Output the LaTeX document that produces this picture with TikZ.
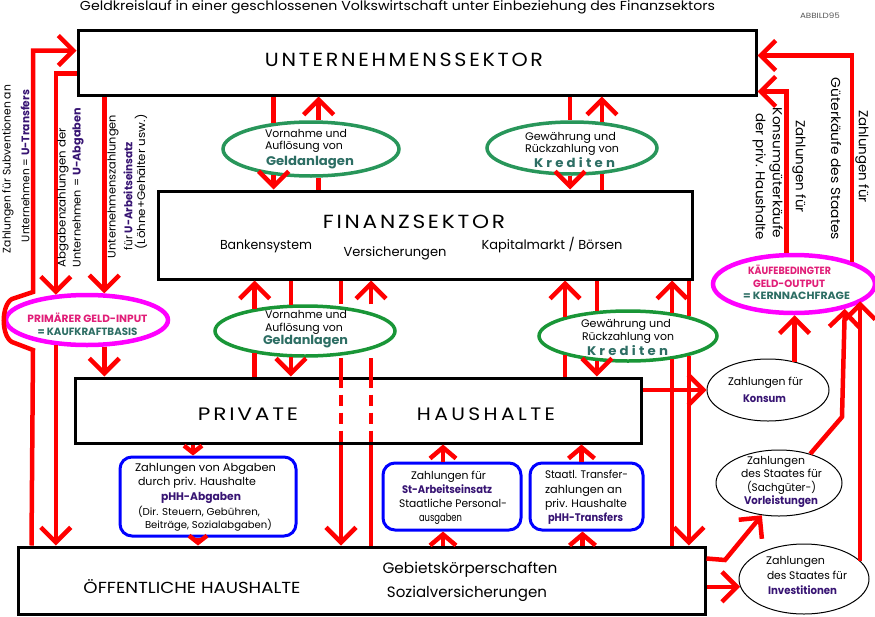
\documentclass[tikz,border=0pt]{standalone}
\usepackage{fontspec}
\setmainfont{Poppins}
\usepackage{graphicx}
\usetikzlibrary{arrows.meta,shapes.geometric}
\definecolor{rd}{RGB}{255,0,0}
\definecolor{grn}{RGB}{40,150,90}
\definecolor{grnb}{RGB}{25,150,55}
\definecolor{mag}{RGB}{255,0,255}
\definecolor{magt}{RGB}{225,30,120}
\definecolor{tealt}{RGB}{45,110,100}
\definecolor{purp}{RGB}{55,20,115}
\definecolor{blu}{RGB}{0,0,255}
\definecolor{gr}{RGB}{90,90,90}
\newcommand\tw[2]{\resizebox{#1pt}{\height}{#2}}
\newcommand\fs[1]{\fontsize{#1}{#1}\selectfont}
\makeatletter
\newcommand\spc[2]{\def\spc@k{#1}\spc@a#2\@nil}
\def\spc@a#1#2\@nil{#1\ifx\relax#2\relax\else\kern\spc@k\spc@a#2\@nil\fi}
\makeatother
\begin{document}
\begin{tikzpicture}[x=1pt,y=-1pt,
  box/.style={draw=black,line width=3pt,rectangle,inner sep=0pt},
  gell/.style={draw=grn,line width=3.5pt,ellipse,inner sep=0pt},
  gellb/.style={draw=grnb,line width=3.5pt,ellipse,inner sep=0pt},
  mell/.style={draw=mag,line width=4.5pt,ellipse,inner sep=0pt},
  kell/.style={draw=black,line width=1pt,ellipse,inner sep=0pt},
  bbox/.style={draw=blu,line width=3pt,rounded corners=12pt,rectangle,inner sep=0pt},
  rl/.style={draw=rd,line width=4.5pt},
  dsh/.style={rl,dash pattern=on 11pt off 7pt},
  arr/.style={rl,-{Straight Barb[length=15pt,width=30pt]}},
  sarr/.style={rl,-{Straight Barb[length=11pt,width=26pt]}},
  tarr/.style={rl,-{Straight Barb[length=7pt,width=18pt]}},
  txt/.style={inner sep=0pt,outer sep=0pt,align=center},
  txl/.style={inner sep=0pt,outer sep=0pt,align=left,anchor=west}]
\fill[white] (0,0) rectangle (875,616);
\useasboundingbox (0,0) rectangle (875,616);

% boxes
\node[box,minimum width=678pt,minimum height=65pt] (U) at (417,62.5) {};
\node[box,minimum width=534pt,minimum height=88pt] (F) at (425,235) {};
\node[box,minimum width=566pt,minimum height=65pt] (P) at (358,410.5) {};
\node[box,minimum width=687pt,minimum height=67pt] (OH) at (361.5,580.5) {};
\node[bbox,minimum width=176pt,minimum height=79pt] (B1) at (208,496.5) {};
\node[bbox,minimum width=138pt,minimum height=67pt] (B2) at (452,496.5) {};
\node[bbox,minimum width=113pt,minimum height=67pt] (B3) at (586.5,496.5) {};

% ellipses
\node[gell,minimum width=176pt,minimum height=54pt] (E1) at (311,149) {};
\node[gell,minimum width=170pt,minimum height=52pt] (E2) at (572,148) {};
\node[gellb,minimum width=180pt,minimum height=50pt] (E3) at (305,331) {};
\node[gellb,minimum width=178pt,minimum height=50pt] (E4) at (628,336) {};
\node[mell,minimum width=162pt,minimum height=50pt] (EL) at (87,320) {};
\node[mell,minimum width=162pt,minimum height=58pt] (ER) at (794,284) {};
\node[kell,minimum width=122pt,minimum height=62pt] (EK) at (768,390) {};
\node[kell,minimum width=126pt,minimum height=66pt] (EV) at (779,483) {};
\node[kell,minimum width=130pt,minimum height=70pt] (EI) at (804,579) {};

% U <-> F
\draw[rl] (E1.145 |- U.south) -- (E1.145);
\draw[arr] (E1.215) -- (E1.215 |- F.north);
\draw[rl] (E1.285 |- F.north) -- (E1.285);
\draw[arr] (E1.75) -- (E1.75 |- U.south);
\draw[rl] (E2.94 |- U.south) -- (E2.94);
\draw[arr] (E2.266) -- (E2.266 |- F.north);
\draw[rl] (E2.319 |- F.north) -- (E2.319);
\draw[arr] (E2.41) -- (E2.41 |- U.south);

% F <-> P / OH via E3
\coordinate (xa) at (341,0);
\coordinate (xb) at (371,0);
\draw[rl] (E3.204 |- P.north) -- (E3.204);
\draw[arr] (E3.156) -- (E3.156 |- F.south);
\draw[rl] (E3.118 |- F.south) -- (E3.118);
\draw[arr] (E3.242) -- (E3.242 |- P.north);
\draw[rl] (xa |- F.south) -- (xa |- E3.north);
\draw[rl] (xa |- E3.south) -- (xa |- P.north);
\draw[dsh] (xa |- P.north) -- (xa |- P.south);
\draw[arr] (xa |- P.south) -- (xa |- OH.north);
\draw[rl] (xb |- OH.north) -- (xb |- P.south);
\draw[dsh] (xb |- P.north) -- (xb |- P.south);
\draw[rl] (xb |- P.north) -- (xb |- E3.south);
\draw[arr] (xb |- E3.north) -- (xb |- F.south);

% F <-> P / OH via E4
\draw[rl] (E4.197 |- P.north) -- (E4.197);
\draw[arr] (E4.163) -- (E4.163 |- F.south);
\draw[rl] (E4.141 |- F.south) -- (E4.141);
\draw[arr] (E4.219) -- (E4.219 |- P.north);
\draw[rl] (E4.332 |- OH.north) -- (E4.332);
\draw[arr] (E4.28) -- (E4.28 |- F.south);
\draw[rl] (E4.18 |- F.south) -- (E4.18);
\draw[arr] (E4.342) -- (E4.342 |- OH.north);

% left side
\coordinate (l1a) at (33,350);
\coordinate (l1b) at (12,342);
\coordinate (l1c) at (12,299);
\coordinate (l1d) at (33,292);
\draw[arr] ([xshift=15pt]OH.north west) -- (l1a) -- (l1b) .. controls (1,336) and (1,305) .. (l1c) -- (l1d) |- ([yshift=-22pt]U.north west);
\draw[arr] ([yshift=-45pt]U.north west) -| (EL.141);
\draw[arr] (EL.219) -- (EL.219 |- OH.north);
\draw[arr] (EL.57 |- U.south) -- (EL.57);
\draw[arr] (EL.303) -- (EL.303 |- P.north);

% right side
\draw[arr] (EK.west -| P.east) -- (EK.west);
\draw[arr] (EK.47) -- (EK.47 |- ER.south);
\coordinate (bV) at (842,417);
\draw[arr] (EV.43) -- (bV) -- (ER.334);
\draw[arr] (EI.18) -- (EI.18 |- ER.346);
\draw[arr] (ER.104) |- ([yshift=5pt]U.south east);
\draw[arr] (ER.21) |- ([yshift=-27pt]U.north east);
\coordinate (bO) at (725,560);
\draw[arr] ([yshift=-13pt]OH.north east) -- (bO) -- (EV.242);
\draw[arr] (EI.187 -| OH.east) -- (EI.187);

% blue boxes arrows
\coordinate (b1a) at ([xshift=-15pt]B1.north);
\coordinate (b1b) at ([xshift=-10pt]B1.south);
\draw[tarr] (b1a |- P.south) -- (b1a);
\draw[tarr] (b1b) -- (b1b |- OH.north);
\coordinate (b2a) at ([xshift=-9pt]B2.north);
\coordinate (b2b) at ([xshift=-9pt]B2.south);
\draw[sarr] (b2a) -- (b2a |- P.south);
\draw[sarr] (b2b |- OH.north) -- (b2b);
\coordinate (b3a) at ([xshift=-5pt]B3.north);
\coordinate (b3b) at ([xshift=-4pt]B3.south);
\draw[sarr] (b3a) -- (b3a |- P.south);
\draw[sarr] (b3b |- OH.north) -- (b3b);

% texts
\node[txt,font=\fs{13}] (title) at (397.5,7) {\tw{635}{Geldkreislauf in einer geschlossenen Volkswirtschaft unter Einbeziehung des Finanzsektors}};
\node[txt,font=\fs{7.5},text=gr] (abb) at (820,16) {\tw{40}{ABBILD95}};
\node[txt,font=\fs{19}] (tU) at (404,60) {\tw{278}{\spc{2.5pt}{UNTERNEHMENSSEKTOR}}};
\node[txt,font=\fs{19}] (tF) at (414,222) {\tw{182}{\spc{2.4pt}{FINANZSEKTOR}}};
\node[txt,font=\fs{13}] (tBank) at (266,246) {\tw{92}{Bankensystem}};
\node[txt,font=\fs{13}] (tVers) at (395,253) {\tw{103}{Versicherungen}};
\node[txt,font=\fs{13}] (tKap) at (552,245) {\tw{141}{Kapitalmarkt / Börsen}};
\node[txt,font=\fs{18}] (tPriv) at (248,414) {\tw{100}{\spc{2.3pt}{PRIVATE}}};
\node[txt,font=\fs{18}] (tHH) at (486,414) {\tw{138}{\spc{3pt}{HAUSHALTE}}};
\node[txt,font=\fs{16}] (tOH) at (192,587) {\tw{217}{ÖFFENTLICHE HAUSHALTE}};
\node[txt,font=\fs{15}] (tGeb) at (470,570) {\tw{175}{Gebietskörperschaften}};
\node[txt,font=\fs{15}] (tSoz) at (467,594) {\tw{160}{Sozialversicherungen}};

\node[txl,font=\fontsize{11}{12}\selectfont] (tE1) at (265,149.5) {\tw{82}{Vornahme und}\\\tw{78}{Auflösung von}\\[3pt]\hspace*{1pt}\tw{88}{\fs{12.5}\bfseries\color{tealt}Geldanlagen}};
\node[txl,font=\fontsize{11}{12}\selectfont] (tE2) at (525,149.5) {\tw{91}{Gewährung und}\\\tw{94}{Rückzahlung von}\\[1pt]\hspace*{9pt}\tw{81}{\fs{12.5}\bfseries\color{tealt}\spc{3pt}{Krediten}}};
\node[txl,font=\fontsize{11}{13}\selectfont] (tE3) at (263,329.5) {\hspace*{2pt}\tw{82}{Vornahme und}\\\hspace*{2pt}\tw{78}{Auflösung von}\\\tw{85}{\fs{12.5}\bfseries\color{tealt}Geldanlagen}};
\node[txl,font=\fontsize{11}{13}\selectfont] (tE4) at (581,337) {\tw{90}{Gewährung und}\\\hspace*{1pt}\tw{92}{Rückzahlung von}\\[2pt]\hspace*{6pt}\tw{81}{\fs{12.5}\bfseries\color{tealt}\spc{3pt}{Krediten}}};
\node[txt,font=\fontsize{10.5}{13}\selectfont\bfseries] (tEL) at (87.5,324.5) {\tw{120}{\color{magt}PRIMÄRER GELD-INPUT}\\\tw{100}{\color{tealt}= KAUFKRAFTBASIS}};
\node[txl,font=\fontsize{10.5}{12.5}\selectfont\bfseries] (tER) at (743,282.5) {\hspace*{5pt}\tw{83}{\color{magt}KÄUFEBEDINGTER}\\\hspace*{10pt}\tw{72}{\color{magt}GELD-OUTPUT}\\\tw{107}{\color{tealt}= KERNNACHFRAGE}};
\node[txl,font=\fontsize{11}{17}\selectfont] (tEK) at (728,389.5) {\tw{75}{Zahlungen für}\\\hspace*{15pt}\tw{43}{\bfseries\color{purp}Konsum}};
\node[txl,font=\fontsize{11}{13.3}\selectfont] (tEV) at (741,482) {\hspace*{6pt}\tw{58}{Zahlungen}\\\tw{81}{des Staates für}\\\hspace*{6pt}\tw{69}{(Sachgüter-)}\\\hspace*{3pt}\tw{74}{\bfseries\color{purp}Vorleistungen}};
\node[txl,font=\fontsize{11}{15}\selectfont] (tEI) at (766,575) {\tw{59}{Zahlungen}\\\hspace*{1pt}\tw{80}{des Staates für}\\\hspace*{2pt}\tw{69}{\bfseries\color{purp}Investitionen}};

\node[txl,font=\fontsize{11}{14.7}\selectfont] (tB1) at (135,497) {\tw{141}{Zahlungen von Abgaben}\\\hspace*{3pt}\tw{118}{durch priv. Haushalte}\\\hspace*{26pt}\tw{80}{\bfseries\color{purp}pHH-Abgaben}\\\hspace*{3pt}\tw{122}{\fs{10}(Dir. Steuern, Gebühren,}\\[-1.5pt]\hspace*{10pt}\tw{127}{\fs{10}Beiträge, Sozialabgaben)}};
\node[txl,font=\fontsize{11}{14}\selectfont] (tB2) at (399,498) {\hspace*{12pt}\tw{75}{Zahlungen für}\\\hspace*{3pt}\tw{90}{\bfseries\color{purp}St-Arbeitseinsatz}\\\tw{108}{Staatliche Personal-}\\\hspace*{20pt}\tw{43}{ausgaben}};
\node[txl,font=\fontsize{11}{14.3}\selectfont] (tB3) at (545,497.5) {\tw{83}{Staatl. Transfer-}\\\tw{77}{zahlungen an}\\\tw{82}{priv. Haushalte}\\\hspace*{3pt}\tw{75}{\bfseries\color{purp}pHH-Transfers}};

% rotated labels left
\node[txt,rotate=90,font=\fs{11}] (L1a) at (8,169) {\tw{168}{Zahlungen für Subventionen an}};
\node[txt,rotate=90,font=\fs{11}] (L1b) at (25,166) {\tw{152}{Unternehmen = {\bfseries\color{purp}U-Transfers}}};
\node[txt,rotate=90,font=\fs{11}] (L2a) at (63,197.5) {\tw{139}{Abgabenzahlungen der}};
\node[txt,rotate=90,font=\fs{11}] (L2b) at (78,187.5) {\tw{159}{Unternehmen = {\bfseries\color{purp}U-Abgaben}}};
\node[txt,rotate=90,font=\fs{11}] (L3a) at (113,186.5) {\tw{143}{Unternehmenszahlungen}};
\node[txt,rotate=90,font=\fs{11}] (L3b) at (128,196) {\tw{108}{für {\bfseries\color{purp}U-Arbeitseinsatz}}};
\node[txt,rotate=90,font=\fs{11}] (L3c) at (141,182) {\tw{135}{(Löhne+Gehälter usw.)}};
% rotated labels right
\node[txt,rotate=-90,font=\fs{13}] (R1a) at (799,166.5) {\tw{93}{Zahlungen für}};
\node[txt,rotate=-90,font=\fs{13}] (R1b) at (776,173) {\tw{130}{Konsumgüterkäufe}};
\node[txt,rotate=-90,font=\fs{13}] (R1c) at (759,176.5) {\tw{127}{der priv. Haushalte}};
\node[txt,rotate=-90,font=\fs{13}] (R2a) at (862,156.5) {\tw{93}{Zahlungen für}};
\node[txt,rotate=-90,font=\fs{13}] (R2b) at (836,159) {\tw{162}{Güterkäufe des Staates}};
\end{tikzpicture}
\end{document}
